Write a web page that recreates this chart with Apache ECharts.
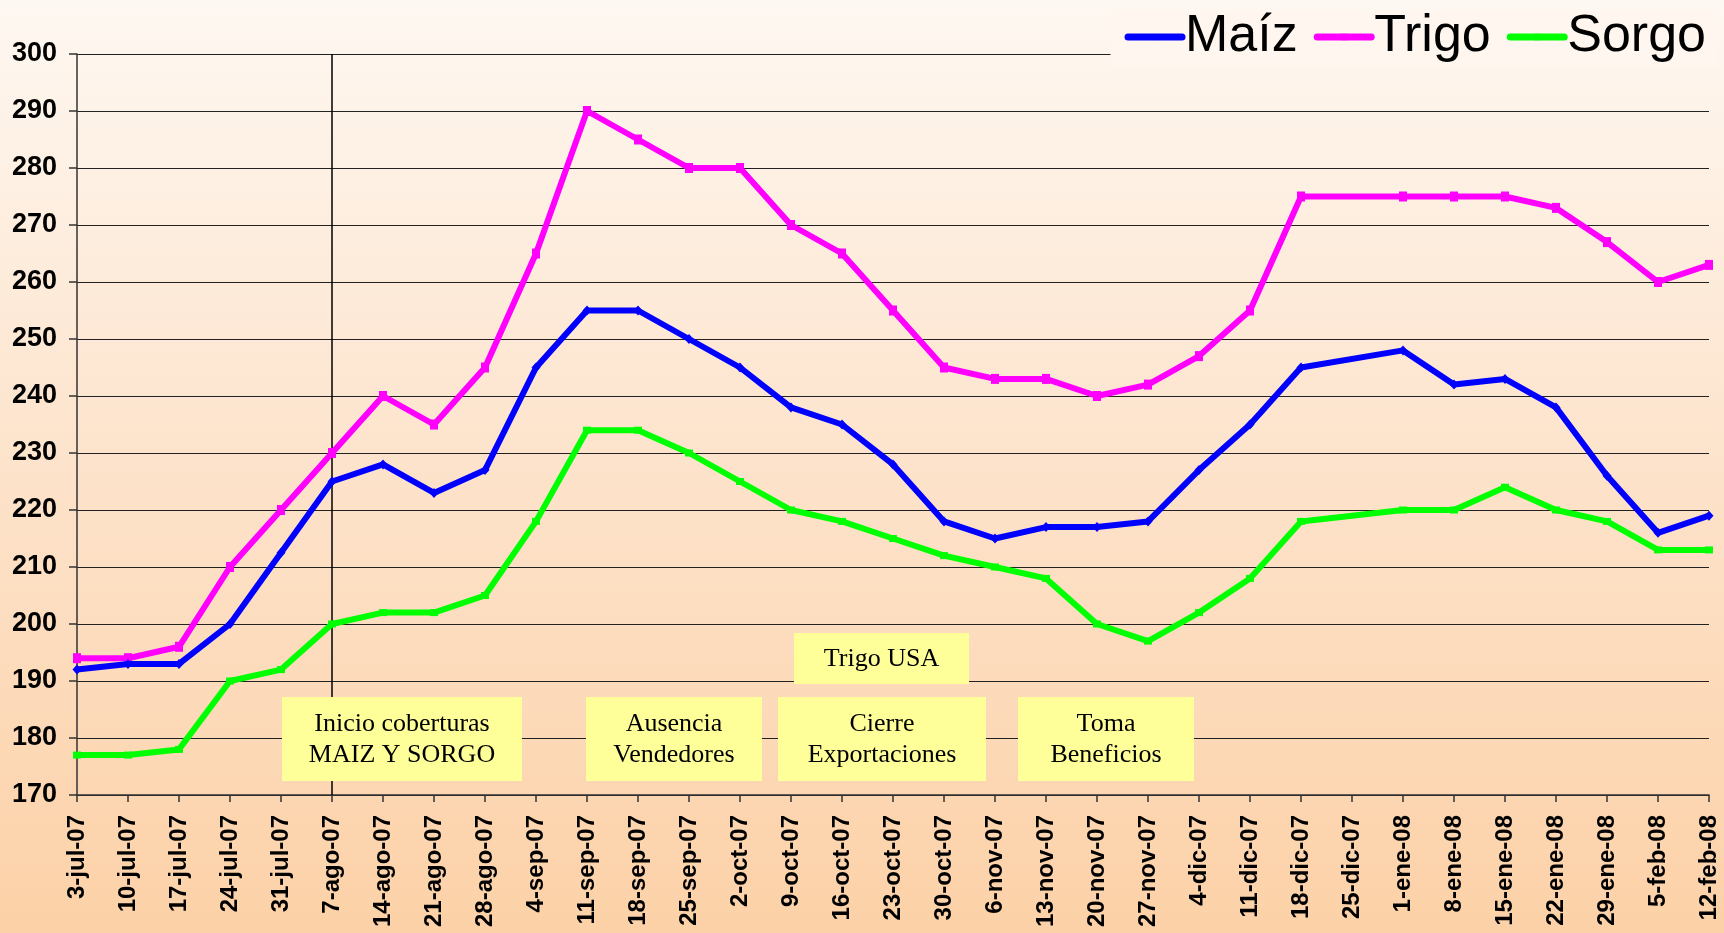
<!DOCTYPE html>
<html>
<head>
<meta charset="utf-8">
<script src="https://cdn.jsdelivr.net/npm/echarts@6/dist/echarts.min.js"></script>
<style>
html,body{margin:0;padding:0;}
#chart{width:1724px;height:933px;}
</style>
</head>
<body>
<div id="chart"></div>
<script>
const categories = ['3-jul-07','10-jul-07','17-jul-07','24-jul-07','31-jul-07','7-ago-07','14-ago-07','21-ago-07','28-ago-07','4-sep-07','11-sep-07','18-sep-07','25-sep-07','2-oct-07','9-oct-07','16-oct-07','23-oct-07','30-oct-07','6-nov-07','13-nov-07','20-nov-07','27-nov-07','4-dic-07','11-dic-07','18-dic-07','25-dic-07','1-ene-08','8-ene-08','15-ene-08','22-ene-08','29-ene-08','5-feb-08','12-feb-08'];
const maiz  = [192,193,193,200,212.5,225,228,223,227,245,255,255,250,245,238,235,228,218,215,217,217,218,227,235,245,null,248,242,243,238,226,216,219];
const trigo = [194,194,196,210,220,230,240,235,245,265,290,285,280,280,270,265,255,245,243,243,240,242,247,255,275,null,275,275,275,273,267,260,263];
const sorgo = [177,177,178,190,192,200,202,202,205,218,234,234,230,225,220,218,215,212,210,208,200,197,202,208,218,null,220,220,224,220,218,213,213];
const seriesNames = ['Maíz','Trigo','Sorgo'];
const markerDate = '7-ago-07';
const notes = [
  'Inicio coberturas\nMAIZ Y SORGO',
  'Ausencia\nVendedores',
  'Cierre\nExportaciones',
  'Toma\nBeneficios',
  'Trigo USA'
];
const yMin = 170, yMax = 300, yStep = 10;

const noteBoxes = [
  {x:282, y:697, w:240, h:84},
  {x:586, y:697, w:176, h:84},
  {x:778, y:697, w:208, h:84},
  {x:1018, y:697, w:176, h:84},
  {x:794, y:633, w:175, h:51}
];

const chart = echarts.init(document.getElementById('chart'));
const graphics = [];
notes.forEach((t, i) => {
  const b = noteBoxes[i];
  graphics.push({
    type: 'rect', z: 50,
    shape: {x: b.x, y: b.y, width: b.w, height: b.h},
    style: {fill: '#FFFF99'}
  });
  graphics.push({
    type: 'text', z: 51,
    x: b.x + b.w / 2, y: b.y + b.h / 2 + 1,
    style: {
      text: t, fill: '#000',
      font: '26px "Liberation Serif", "Times New Roman", serif',
      align: 'center', verticalAlign: 'middle', lineHeight: 31
    }
  });
});

const colors = ['#0000FF', '#FF00FF', '#00FF00'];
const symbols = ['diamond', 'rect', 'rect'];
const symbolSizes = [[9, 10], [8, 10], [8, 7]];
const dataSets = [maiz, trigo, sorgo];

const series = seriesNames.map((n, i) => ({
  name: n,
  type: 'line',
  data: dataSets[i],
  connectNulls: true,
  symbol: symbols[i],
  symbolSize: symbolSizes[i],
  showSymbol: true,
  lineStyle: {color: colors[i], width: 6},
  itemStyle: {color: colors[i]},
  z: 10 - i,
  markLine: i === 0 ? {
    silent: true,
    symbol: 'none',
    label: {show: false},
    lineStyle: {color: '#000', width: 1.5, type: 'solid'},
    data: [{xAxis: markerDate}]
  } : undefined
}));

chart.setOption({
  animation: false,
  backgroundColor: new echarts.graphic.LinearGradient(0, 0, 0, 1, [
    {offset: 0, color: '#FEF8F2'},
    {offset: 0.5, color: '#FDE3CB'},
    {offset: 1, color: '#FCD1A7'}
  ]),
  legend: {
    right: 6, top: 11,
    padding: [0, 12, 4, 14],
    backgroundColor: '#FEF6EF',
    itemWidth: 54, itemHeight: 8, itemGap: 16,
    lineStyle: {width: 7, cap: 'round'},
    textStyle: {fontFamily: '"Liberation Sans", Arial, sans-serif', fontSize: 52, color: '#000', padding: [0, 0, 0, -2]},
    data: seriesNames,
    z: 20
  },
  grid: {left: 77, right: 15, top: 54, bottom: 138, containLabel: false},
  xAxis: {
    type: 'category',
    data: categories,
    boundaryGap: false,
    axisLine: {lineStyle: {color: '#333', width: 1.5}},
    axisTick: {show: true, length: 7, lineStyle: {color: '#333', width: 1.5}, interval: 0},
    axisLabel: {
      interval: 0, rotate: 90, margin: 20,
      fontFamily: '"Liberation Sans", Arial, sans-serif',
      fontWeight: 'bold', fontSize: 24, color: '#000'
    },
    splitLine: {show: false}
  },
  yAxis: {
    type: 'value',
    min: yMin, max: yMax, interval: yStep,
    axisLine: {show: true, lineStyle: {color: '#333', width: 1.5}},
    axisTick: {show: true, length: 8, lineStyle: {color: '#333', width: 1.5}},
    axisLabel: {
      margin: 20,
      fontFamily: '"Liberation Sans", Arial, sans-serif',
      fontWeight: 'bold', fontSize: 27, color: '#000'
    },
    splitLine: {show: true, lineStyle: {color: '#222', width: 1}}
  },
  series: series,
  graphic: graphics
});
</script>
</body>
</html>
